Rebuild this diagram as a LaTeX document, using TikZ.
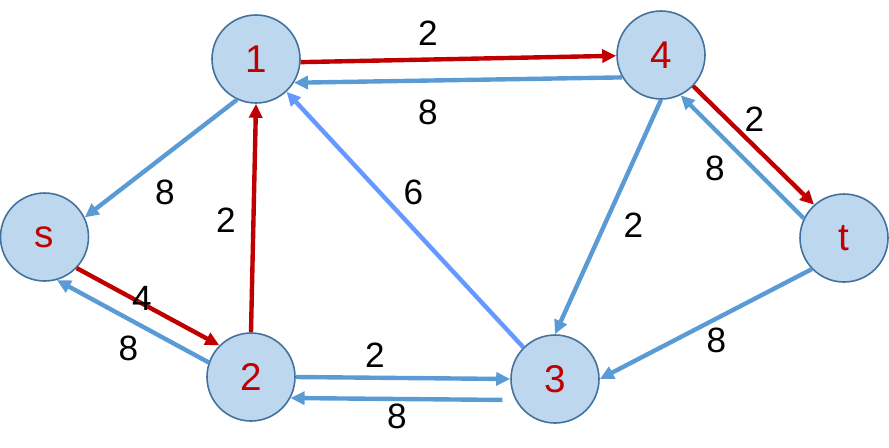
\documentclass[tikz,border=0pt]{standalone}
\usepackage{fontspec}
\setmainfont{Liberation Sans}
\usetikzlibrary{arrows.meta}
\definecolor{vfill}{RGB}{189,215,238}
\definecolor{vline}{RGB}{65,113,156}
\definecolor{flowred}{RGB}{192,0,0}
\definecolor{resblue}{RGB}{91,155,213}
\definecolor{resblue2}{RGB}{102,153,255}

\begin{document}
\begin{tikzpicture}[x=1cm,y=1cm,vertex/.style={circle,draw=vline,line width=0.9pt,fill=vfill,minimum size=1.76cm,inner sep=0pt,text=flowred,font=\fontsize{22pt}{24pt}\selectfont},edge/.style={draw=resblue,line width=2.5pt,-{Triangle[length=0.28cm,width=0.26cm]}},flow/.style={edge,draw=flowred,fill=flowred},back/.style={edge,draw=resblue2},weight/.style={inner sep=0pt,text=black,font=\fontsize{20pt}{22pt}\selectfont}]
\useasboundingbox (0,0) rectangle (17.78,-8.94);
\node[vertex] (n1) at (5.12,-1.18) {1};
\node[vertex] (n4) at (13.22,-1.10) {4};
\node[vertex] (ns) at (0.89,-4.74) {s};
\node[vertex] (nt) at (16.88,-4.76) {t};
\node[vertex] (n2) at (5.02,-7.54) {2};
\node[vertex] (n3) at (11.10,-7.58) {3};
\draw[flow] (n1.-4) -- (n4.181);
\draw[edge] (n4.210) -- (n1.328);
\draw[edge] (n1.245) -- (ns.26);
\draw[flow] (ns.316) -- (n2.135);
\draw[edge] (n2.161) -- (ns.286);
\draw[flow] (n2.north) -- (n1.south);
\draw[back] (n3.135) -- (n1.313);
\draw[edge] (n4.south) -- (n3.north);
\draw[flow] (n4.316) -- (nt.132);
\draw[edge] (nt.154) -- (n4.296);
\draw[edge] (nt.224) -- (n3.east);
\draw[edge] (n2.east) -- (n3.west);
\draw[edge,shorten <=0.26cm] (n3.208) -- (n2.332);
\node[weight] (w14) at (8.56,-0.66) {2};
\node[weight] (w41) at (8.56,-2.25) {8};
\node[weight] (w1s) at (3.30,-3.85) {8};
\node[weight] (w21) at (4.52,-4.40) {2};
\node[weight] (w31) at (8.27,-3.85) {6};
\node[weight] (w43) at (12.67,-4.50) {2};
\node[weight] (w4t) at (15.09,-2.38) {2};
\node[weight] (wt4) at (14.30,-3.37) {8};
\node[weight] (ws2) at (2.84,-5.97) {4};
\node[weight] (w2s) at (2.57,-6.96) {8};
\node[weight] (w23) at (7.50,-7.10) {2};
\node[weight] (w32) at (7.94,-8.33) {8};
\node[weight] (wt3) at (14.33,-6.81) {8};
\end{tikzpicture}
\end{document}
